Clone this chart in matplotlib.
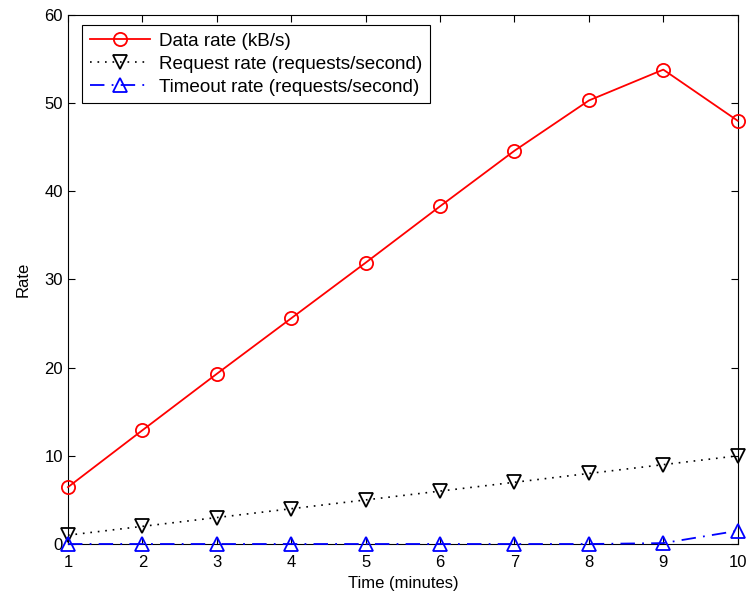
import numpy as np
import matplotlib.pyplot as plt

plt.rcParams['font.family'] = ['Liberation Sans', 'DejaVu Sans']

minutes = [1, 2, 3, 4, 5, 6, 7, 8, 9, 10]
data_rate = [6.45, 12.9, 19.3, 25.6, 31.9, 38.3, 44.6, 50.3, 53.8, 48.0]
request_rate = [1, 2, 3, 4, 5, 6, 7, 8, 9, 10]
timeout_rate = [0, 0, 0, 0, 0, 0, 0, 0, 0.1, 1.5]

fig = plt.figure(figsize=(7.52, 5.98), dpi=100)
ax = fig.add_axes([0.0904, 0.0903, 0.8906, 0.8847])

ax.plot(minutes, data_rate, '-o', color='red', mfc='none', ms=9.5, mew=1.3, lw=1.3,
        label='Data rate (kB/s)', clip_on=False, zorder=3)
ax.plot(minutes, request_rate, marker='v', ls=(0, (1, 3.5)), color='black', mfc='none',
        ms=9.5, mew=1.3, lw=1.2, label='Request rate (requests/second)',
        clip_on=False, zorder=3)
ax.plot(minutes, timeout_rate, marker='^', ls=(0, (8, 4, 1, 4)), color='blue', mfc='none',
        ms=9.5, mew=1.3, lw=1.3, label='Timeout rate (requests/second)',
        clip_on=False, zorder=3)

ax.set_xlim(1, 10)
ax.set_ylim(0, 60)
ax.set_xticks(minutes)
ax.set_yticks(np.arange(0, 61, 10))
ax.tick_params(direction='in', labelsize=12, length=5, top=True, right=True)
ax.tick_params(axis='x', pad=8)
ax.set_xlabel('Time (minutes)', fontsize=12, labelpad=4)
ax.set_ylabel('Rate', fontsize=12, labelpad=10)

leg = ax.legend(loc='upper left', bbox_to_anchor=(0.0209, 0.981), borderaxespad=0,
                fontsize=13.6, fancybox=False, edgecolor='black', framealpha=1,
                handlelength=3.2, labelspacing=0.3, borderpad=0.4, handletextpad=0.5)
leg.get_frame().set_linewidth(0.8)

fig.savefig('out.png', dpi=100)
